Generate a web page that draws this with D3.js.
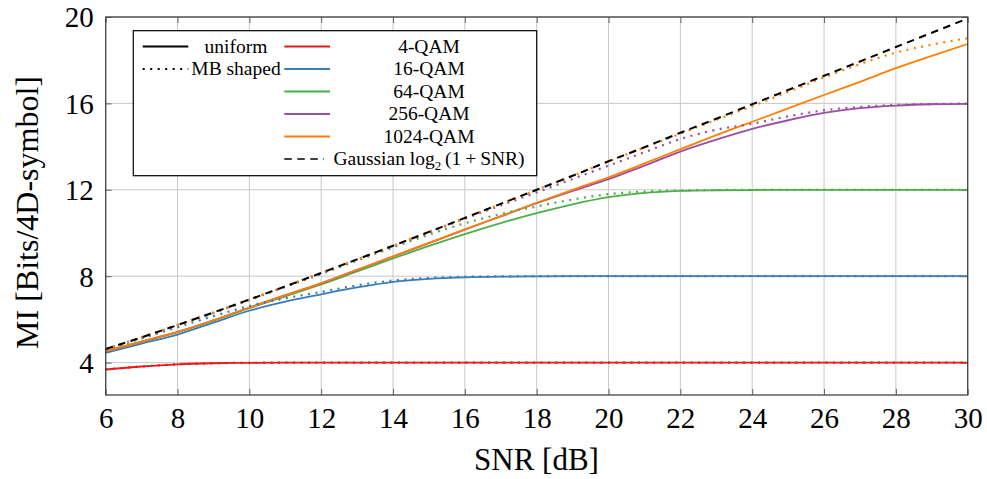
<!DOCTYPE html>
<html>
<head>
<meta charset="utf-8">
<script src="https://cdn.jsdelivr.net/npm/d3@7"></script>
<style>
  body { margin: 0; background: #fff; }
  svg { display: block; }
  text { font-family: "Liberation Serif", "Times New Roman", serif; fill: #000; }
</style>
</head>
<body>
<svg id="chart" width="987" height="479"></svg>
<script>
// ---------- data ----------
const snr = [6,7,8,9,10,11,12,13,14,15,16,17,18,19,20,21,22,23,24,25,26,27,28,29,30];
const xTicks = [6,8,10,12,14,16,18,20,22,24,26,28,30];
const yTicks = [4,8,12,16,20];

const gaussian = [4.63,5.17,5.74,6.32,6.92,7.53,8.15,8.78,9.41,10.05,10.70,11.35,12.00,12.65,13.32,13.97,14.64,15.29,15.96,16.62,17.28,17.94,18.61,19.27,19.93];

const qam4Uniform  = [3.68,3.82,3.92,3.97,3.99,4.00,4.00,4.00,4.00,4.00,4.00,4.00,4.00,4.00,4.00,4.00,4.00,4.00,4.00,4.00,4.00,4.00,4.00,4.00,4.00];
const qam4Shaped   = [3.68,3.82,3.92,3.97,3.99,4.00,4.00,4.00,4.00,4.00,4.00,4.00,4.00,4.00,4.00,4.00,4.00,4.00,4.00,4.00,4.00,4.00,4.00,4.00,4.00];
const qam16Uniform = [4.45,4.88,5.30,5.85,6.40,6.82,7.16,7.48,7.74,7.88,7.95,7.98,7.99,8.00,8.00,8.00,8.00,8.00,8.00,8.00,8.00,8.00,8.00,8.00,8.00];
const qam16Shaped  = [4.60,5.12,5.64,6.15,6.62,6.98,7.27,7.58,7.80,7.92,7.97,7.99,8.00,8.00,8.00,8.00,8.00,8.00,8.00,8.00,8.00,8.00,8.00,8.00,8.00];
const qam64Uniform = [4.52,4.96,5.41,5.94,6.52,7.07,7.62,8.22,8.82,9.40,9.95,10.46,10.92,11.33,11.66,11.86,11.95,11.98,11.99,12.00,12.00,12.00,12.00,12.00,12.00];
const qam64Shaped  = [4.62,5.16,5.73,6.30,6.90,7.50,8.10,8.72,9.33,9.92,10.45,10.88,11.23,11.55,11.80,11.92,11.97,11.99,12.00,12.00,12.00,12.00,12.00,12.00,12.00];
const qam256Uniform = [4.53,4.97,5.42,5.96,6.55,7.12,7.67,8.29,8.91,9.53,10.16,10.77,11.38,11.95,12.49,13.12,13.77,14.32,14.82,15.22,15.56,15.78,15.90,15.96,15.98];
const qam256Shaped  = [4.62,5.16,5.73,6.31,6.91,7.52,8.14,8.77,9.39,10.02,10.66,11.28,11.88,12.50,13.12,13.74,14.35,14.78,15.06,15.40,15.68,15.84,15.93,15.97,15.99];
const qam1024Uniform = [4.53,4.97,5.42,5.96,6.55,7.12,7.68,8.30,8.92,9.54,10.17,10.78,11.40,12.00,12.58,13.22,13.88,14.53,15.15,15.77,16.39,17.00,17.63,18.20,18.75];
const qam1024Shaped  = [4.63,5.17,5.74,6.32,6.92,7.53,8.15,8.78,9.41,10.05,10.70,11.35,12.00,12.65,13.31,13.96,14.60,15.24,15.87,16.53,17.20,17.82,18.35,18.72,19.02];

const qamLabels = ["4-QAM","16-QAM","64-QAM","256-QAM","1024-QAM"];
const qamColors = ["#e41a1c","#377eb8","#4daf4a","#984ea3","#ff7f00"];
const uniformSeries = [qam4Uniform, qam16Uniform, qam64Uniform, qam256Uniform, qam1024Uniform];
const shapedSeries  = [qam4Shaped, qam16Shaped, qam64Shaped, qam256Shaped, qam1024Shaped];

// ---------- layout ----------
const svg = d3.select("#chart");
const L = 105.7, R = 967.7, T = 17, B = 395;
const x = d3.scaleLinear().domain([6, 30]).range([L, R]);
const y = d3.scaleLinear().domain([2.5, 20]).range([B, T]);
const dotted = "2,5.5";
const dashed = "7.5,5.5";

// grid
const grid = svg.append("g");
grid.selectAll("line.gx").data(xTicks).join("line")
  .attr("x1", d => x(d)).attr("x2", d => x(d)).attr("y1", T).attr("y2", B)
  .attr("stroke", "#c8c8c8").attr("stroke-width", 1);
grid.selectAll("line.gy").data(yTicks).join("line")
  .attr("x1", L).attr("x2", R).attr("y1", d => y(d)).attr("y2", d => y(d))
  .attr("stroke", "#c8c8c8").attr("stroke-width", 1);

// inner ticks on all sides
const tickLen = 6;
const axB = svg.append("g").attr("transform", `translate(0,${B})`)
  .call(d3.axisBottom(x).tickValues(xTicks).tickSize(-tickLen).tickFormat(""));
const axT = svg.append("g").attr("transform", `translate(0,${T})`)
  .call(d3.axisTop(x).tickValues(xTicks).tickSize(-tickLen).tickFormat(""));
const axL = svg.append("g").attr("transform", `translate(${L},0)`)
  .call(d3.axisLeft(y).tickValues(yTicks).tickSize(-tickLen).tickFormat(""));
const axR = svg.append("g").attr("transform", `translate(${R},0)`)
  .call(d3.axisRight(y).tickValues(yTicks).tickSize(-tickLen).tickFormat(""));
[axB, axT, axL, axR].forEach(a => {
  a.select(".domain").remove();
  a.selectAll(".tick line").attr("stroke", "#666").attr("stroke-width", 1);
});

// tick labels
const lblB = svg.append("g").attr("transform", `translate(0,${B})`)
  .call(d3.axisBottom(x).tickValues(xTicks).tickSize(0).tickPadding(0).tickFormat(d3.format("d")));
lblB.select(".domain").remove();
lblB.selectAll("text").attr("y", 33).attr("dy", 0)
  .style("font-family", '"Liberation Serif", "Times New Roman", serif').style("font-size", "29px").attr("fill", "#000");

const lblL = svg.append("g").attr("transform", `translate(${L},0)`)
  .call(d3.axisLeft(y).tickValues(yTicks).tickSize(0).tickPadding(12).tickFormat(d3.format("d")));
lblL.select(".domain").remove();
lblL.selectAll("text").attr("dy", "0.34em")
  .style("font-family", '"Liberation Serif", "Times New Roman", serif').style("font-size", "29px").attr("fill", "#000");

// lines
const line = d3.line().x((d, i) => x(snr[i])).y(d => y(d)).curve(d3.curveMonotoneX);
const plot = svg.append("g");
uniformSeries.forEach((s, k) => {
  plot.append("path").datum(s).attr("d", line)
    .attr("fill", "none").attr("stroke", qamColors[k]).attr("stroke-width", 1.8);
});
shapedSeries.forEach((s, k) => {
  plot.append("path").datum(s).attr("d", line)
    .attr("fill", "none").attr("stroke", qamColors[k]).attr("stroke-width", 2.2)
    .attr("stroke-dasharray", dotted);
});
plot.append("path").datum(gaussian).attr("d", line)
  .attr("fill", "none").attr("stroke", "#000").attr("stroke-width", 2)
  .attr("stroke-dasharray", dashed);

// frame
svg.append("rect").attr("x", L).attr("y", T).attr("width", R - L).attr("height", B - T)
  .attr("fill", "none").attr("stroke", "#444").attr("stroke-width", 1.3);

// axis titles
svg.append("text").attr("x", 536.5).attr("y", 470).attr("text-anchor", "middle")
  .style("font-size", "31px").text("SNR [dB]");
svg.append("text").attr("transform", "translate(38,212.5) rotate(-90)").attr("text-anchor", "middle")
  .style("font-size", "32px").text("MI [Bits/4D-symbol]");

// legend
const lg = svg.append("g");
lg.append("rect").attr("x", 133.3).attr("y", 30.7).attr("width", 403.4).attr("height", 145)
  .attr("fill", "#fff").attr("stroke", "#000").attr("stroke-width", 1.2);
const rowY = i => 46.5 + i * 22.5;
const fs = "19.5px";
// column 1: line styles
lg.append("line").attr("x1", 142.7).attr("x2", 188.3).attr("y1", rowY(0)).attr("y2", rowY(0))
  .attr("stroke", "#000").attr("stroke-width", 2);
lg.append("text").attr("x", 236).attr("y", rowY(0)).attr("dy", "0.32em").attr("text-anchor", "middle")
  .style("font-size", fs).text("uniform");
lg.append("line").attr("x1", 142.7).attr("x2", 188.3).attr("y1", rowY(1)).attr("y2", rowY(1))
  .attr("stroke", "#000").attr("stroke-width", 2.2).attr("stroke-dasharray", dotted);
lg.append("text").attr("x", 236).attr("y", rowY(1)).attr("dy", "0.32em").attr("text-anchor", "middle")
  .style("font-size", fs).text("MB shaped");
// column 2: colors
qamLabels.forEach((lab, k) => {
  lg.append("line").attr("x1", 284.3).attr("x2", 330).attr("y1", rowY(k)).attr("y2", rowY(k))
    .attr("stroke", qamColors[k]).attr("stroke-width", 1.8);
  lg.append("text").attr("x", 429).attr("y", rowY(k)).attr("dy", "0.32em").attr("text-anchor", "middle")
    .style("font-size", fs).text(lab);
});
lg.append("line").attr("x1", 284.3).attr("x2", 324).attr("y1", rowY(5)).attr("y2", rowY(5))
  .attr("stroke", "#000").attr("stroke-width", 1.5).attr("stroke-dasharray", dashed);
const gt = lg.append("text").attr("x", 429).attr("y", rowY(5) + 6).attr("text-anchor", "middle")
  .style("font-size", fs);
gt.append("tspan").text("Gaussian log");
gt.append("tspan").attr("dy", 5).style("font-size", "13px").text("2");
gt.append("tspan").attr("dy", -5).text("\u2009(1\u2009+\u2009SNR)");
</script>
</body>
</html>
